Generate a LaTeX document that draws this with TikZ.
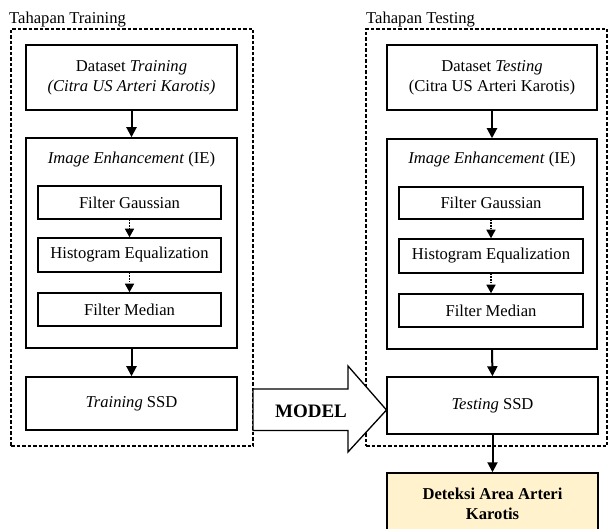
\documentclass[tikz,border=0pt]{standalone}
\usepackage{fontspec}
\setmainfont{Liberation Serif}
\usetikzlibrary{arrows.meta}
\begin{document}
\begin{tikzpicture}[x=1pt,y=-1pt,
  txt/.style={font=\fontsize{16.6}{20}\selectfont},
  box/.style={draw=black,line width=1.5pt,fill=white,inner sep=0pt,align=center,font=\fontsize{16.6}{20}\selectfont},
  frame/.style={draw=black,line width=1.1pt,dash pattern=on 3.5pt off 2pt},
  mainarrow/.style={draw=black,line width=2pt,-{Triangle[length=10pt,width=10pt]}},
  dotarrow/.style={draw=black,line width=1.3pt,dash pattern=on 1.5pt off 1.2pt,-{Triangle[length=8.5pt,width=9pt]}},
]
\useasboundingbox (0,0) rectangle (608,529);
% frames
\node[frame,inner sep=0pt,minimum width=242pt,minimum height=417pt] (frL) at (132,237.5) {};
\node[frame,inner sep=0pt,minimum width=241pt,minimum height=417pt] (frR) at (486.5,237.5) {};
\node[txt,anchor=base west,inner sep=0pt] (tL) at (9,24) {Tahapan Training};
\node[txt,anchor=base west,inner sep=0pt] (tR) at (366,24) {Tahapan Testing};
% MODEL arrow
\draw[line width=1.3pt,fill=white,line join=miter] (253,389) -- (348,389) -- (348,366) -- (386.5,410) -- (348,452) -- (348,430.5) -- (253,430.5) -- cycle;
\node[txt,font=\fontsize{19}{22}\selectfont\bfseries] (model) at (311,411) {MODEL};
% left column
\node[box,minimum width=211pt,minimum height=65pt] (dsL) at (131.5,77.5) {Dataset \textit{Training}\\\textit{(Citra US Arteri Karotis)}};
\node[box,minimum width=211pt,minimum height=210pt] (ieL) at (131.5,243) {};
\node[txt] (ieLt) at (131.5,160) {\textit{Image Enhancement} (IE)};
\node[box,minimum width=183pt,minimum height=33pt] (fgL) at (129.5,202.5) {Filter Gaussian};
\node[box,minimum width=183pt,minimum height=34pt] (heL) at (129.5,255) {Histogram Equalization};
\node[box,minimum width=183pt,minimum height=33pt] (fmL) at (129.5,309.5) {Filter Median};
\node[box,minimum width=211pt,minimum height=53pt] (ssdL) at (131.5,403.5) {\textit{Training} SSD};
% right column
\node[box,minimum width=210pt,minimum height=65pt] (dsR) at (492,77.5) {Dataset \textit{Testing}\\(Citra US Arteri Karotis)};
\node[box,minimum width=210pt,minimum height=210pt] (ieR) at (492,244) {};
\node[txt] (ieRt) at (492,160) {\textit{Image Enhancement} (IE)};
\node[box,minimum width=184pt,minimum height=32pt] (fgR) at (491,203) {Filter Gaussian};
\node[box,minimum width=184pt,minimum height=34pt] (heR) at (491,256) {Histogram Equalization};
\node[box,minimum width=184pt,minimum height=33pt] (fmR) at (491,310.5) {Filter Median};
\node[box,minimum width=211pt,minimum height=57pt] (ssdR) at (492.5,405.5) {\textit{Testing} SSD};
\node[box,fill={rgb,255:red,255;green,242;blue,204},minimum width=211pt,minimum height=62pt,font=\fontsize{16.6}{20}\selectfont\bfseries] (det) at (492.5,504) {Deteksi Area Arteri\\Karotis};
% arrows
\draw[mainarrow] (dsL.south) -- (ieL.north);
\draw[dotarrow] (fgL.south) -- (heL.north);
\draw[dotarrow] (heL.south) -- (fmL.north);
\draw[mainarrow] (ieL.south) -- (ssdL.north);
\draw[mainarrow] (dsR.south) -- (ieR.north);
\draw[dotarrow] (fgR.south) -- (heR.north);
\draw[dotarrow] (heR.south) -- (fmR.north);
\draw[mainarrow] (ieR.south) -- (ssdR.north);
\draw[mainarrow] (ssdR.south) -- (det.north);
\end{tikzpicture}
\end{document}
